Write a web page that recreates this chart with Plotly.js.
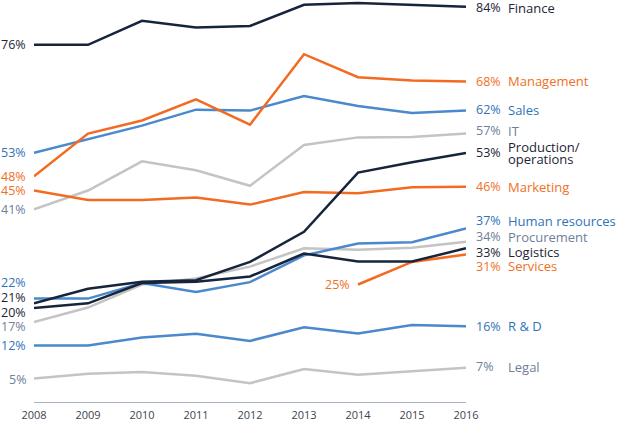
<!DOCTYPE html>
<html>
<head>
<meta charset="utf-8">
<script src="https://cdn.plot.ly/plotly-3.0.1.min.js"></script>
<style>html,body{margin:0;padding:0;background:#fff;}#chart{width:617px;height:423px;}</style>
</head>
<body>
<div id="chart"></div>
<script>
// ---- data ----
var years = [2008, 2009, 2010, 2011, 2012, 2013, 2014, 2015, 2016];
var tickLabels = ["2008", "2009", "2010", "2011", "2012", "2013", "2014", "2015", "2016"];
var finance     = [76, 76, 81.1, 79.7, 80, 84.5, 84.9, 84.5, 84.1];
var management  = [48, 57.1, 59.9, 64.4, 59, 74, 69.1, 68.4, 68.2];
var sales       = [53, 55.9, 58.8, 62.2, 62, 65.1, 63, 61.5, 62];
var it          = [41, 45, 51.2, 49.3, 46, 54.7, 56.3, 56.4, 57.1];
var production  = [21, 24.1, 25.6, 25.9, 29.8, 36.2, 48.8, 51, 53];
var marketing   = [45, 43, 43, 43.5, 42, 44.7, 44.4, 45.7, 45.8];
var humanRes    = [22, 22, 25.3, 23.4, 25.5, 31.2, 33.7, 34, 36.9];
var procurement = [17, 20.1, 25.0, 26.3, 28.8, 32.7, 32.4, 32.8, 34.1];
var logistics   = [20, 21, 25.3, 25.6, 26.7, 31.6, 29.9, 29.9, 32.7];
var services    = [null, null, null, null, null, null, 25, 29.8, 31.4];
var rnd         = [12, 12, 13.7, 14.5, 13, 15.9, 14.6, 16.4, 16.1];
var legal       = [5, 6, 6.4, 5.6, 4, 7, 5.8, 6.5, 7.3];

// ---- styles ----
var DARK = "#16253c", ORANGE = "#f26b21", BLUE = "#4a89cc", GRAY = "#c4c4c4";
var T_DARK = "#1b2535", T_ORANGE = "#f07026", T_BLUE = "#2f73b7", T_GRAY = "#6d8099";

var series = [
  {name: "Finance", v: finance, c: DARK, t: T_DARK, ls: 0, rs: -1},
  {name: "Management", v: management, c: ORANGE, t: T_ORANGE, ls: 0, rs: 0},
  {name: "Sales", v: sales, c: BLUE, t: T_BLUE, ls: 0, rs: 1},
  {name: "IT", v: it, c: GRAY, t: T_GRAY, ls: 0, rs: 3},
  {name: "Production/operations", v: production, c: DARK, t: T_DARK, ls: 6, rs: 0, two: ["Production/", "operations"]},
  {name: "Marketing", v: marketing, c: ORANGE, t: T_ORANGE, ls: 0, rs: 0},
  {name: "Human resources", v: humanRes, c: BLUE, t: T_BLUE, ls: 16, rs: 8},
  {name: "Procurement", v: procurement, c: GRAY, t: T_GRAY, ls: -4, rs: 5},
  {name: "Logistics", v: logistics, c: DARK, t: T_DARK, ls: -4, rs: -4},
  {name: "Services", v: services, c: ORANGE, t: T_ORANGE, ls: 0, rs: -12},
  {name: "R & D", v: rnd, c: BLUE, t: T_BLUE, ls: 0, rs: 0},
  {name: "Legal", v: legal, c: GRAY, t: T_GRAY, ls: -1, rs: 1}
];

var FONT = "Open Sans, sans-serif";
var VSIZE = 12.5, NSIZE = 13;
var traces = [];
var annotations = [];
var rank = function(s){ return s.c === GRAY ? 0 : (s.c === BLUE ? 1 : (s.c === ORANGE ? 2 : 3)); };
var order = series.slice().sort(function(a, b){ return rank(a) - rank(b); });
order.forEach(function(s){
  traces.push({x: years, y: s.v, type: "scatter", mode: "lines", name: s.name,
    line: {color: s.c, width: 2.5}, connectgaps: false, hoverinfo: "skip", cliponaxis: false});
});

series.forEach(function(s){
  var fi = 0; while (s.v[fi] === null) fi++;
  var li = s.v.length - 1;
  annotations.push({x: years[fi], y: s.v[fi], xref: "x", yref: "y", text: Math.round(s.v[fi]) + "%",
    showarrow: false, xanchor: "right", yanchor: "middle", xshift: -6, yshift: s.ls,
    font: {family: FONT, size: VSIZE, color: s.t}});
  annotations.push({x: years[li], y: s.v[li], xref: "x", yref: "y", text: Math.round(s.v[li]) + "%",
    showarrow: false, xanchor: "left", yanchor: "middle", xshift: 8, yshift: s.rs,
    font: {family: FONT, size: VSIZE, color: s.t}});
  if (s.two) {
    annotations.push({x: years[li], y: s.v[li], xref: "x", yref: "y", text: s.two[0],
      showarrow: false, xanchor: "left", yanchor: "middle", xshift: 40, yshift: s.rs + 6,
      font: {family: FONT, size: NSIZE, color: s.t}});
    annotations.push({x: years[li], y: s.v[li], xref: "x", yref: "y", text: s.two[1],
      showarrow: false, xanchor: "left", yanchor: "middle", xshift: 40, yshift: s.rs - 6,
      font: {family: FONT, size: NSIZE, color: s.t}});
  } else {
    annotations.push({x: years[li], y: s.v[li], xref: "x", yref: "y", text: s.name,
      showarrow: false, xanchor: "left", yanchor: "middle", xshift: 40, yshift: s.rs,
      font: {family: FONT, size: NSIZE, color: s.t}});
  }
});

var layout = {
  width: 617, height: 423,
  margin: {l: 34, r: 151, t: 0, b: 21, pad: 0},
  paper_bgcolor: "#ffffff", plot_bgcolor: "#ffffff",
  showlegend: false,
  font: {family: FONT, size: 11, color: "#3d4550"},
  xaxis: {range: [2008, 2016], tickvals: years, ticktext: tickLabels, showgrid: false, zeroline: false,
    showline: true, linecolor: "#a8b4c4", linewidth: 1, ticks: "outside", ticklen: 3,
    tickcolor: "rgba(0,0,0,0)", fixedrange: true,
    tickfont: {family: FONT, size: 11, color: "#3d4550"}},
  yaxis: {range: [0, 85.53], visible: false, fixedrange: true},
  annotations: annotations
};

Plotly.newPlot("chart", traces, layout, {staticPlot: true, displayModeBar: false});
</script>
</body>
</html>
